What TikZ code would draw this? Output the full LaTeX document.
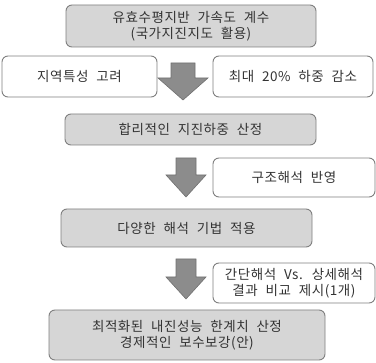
\documentclass[tikz,border=0pt]{standalone}
\usepackage{fontspec}
\newfontfamily\kr[LetterSpace=4,WordSpace=2.2]{Noto Sans CJK KR}
\definecolor{boxfill}{HTML}{D6D6D6}
\definecolor{boxline}{HTML}{7F7F7F}
\definecolor{txt}{HTML}{333333}
\definecolor{arrfill}{HTML}{8C8C8C}
\definecolor{arrline}{HTML}{707070}
\begin{document}
\begin{tikzpicture}[x=1pt,y=-1pt,
  mainbox/.style={draw=boxline,line width=0.9pt,fill=boxfill,rounded corners=6pt,inner sep=0pt,align=center,text=txt,font=\kr\fontsize{13.5}{15.5}\selectfont},
  sidebox/.style={draw=boxline,line width=0.9pt,fill=white,rounded corners=6pt,inner sep=0pt,align=center,text=txt,font=\kr\fontsize{13.5}{15.5}\selectfont},
  blockarrow/.style={fill=arrfill,draw=arrline,line width=0.6pt,line join=miter}]
\useasboundingbox (0,0) rectangle (376,363);
\node[mainbox,minimum width=250pt,minimum height=42pt] (b1) at (191,26) {유효수평지반 가속도 계수\\(국가지진지도 활용)};
\node[sidebox,minimum width=155pt,minimum height=41pt] (l1) at (79.5,76.5) {지역특성 고려};
\node[sidebox,minimum width=160pt,minimum height=41pt] (r1) at (293,76.5) {최대 20\% 하중 감소};
\node[mainbox,minimum width=251pt,minimum height=31pt] (b2) at (190.5,129.5) {합리적인 지진하중 산정};
\node[sidebox,minimum width=162pt,minimum height=39pt] (r2) at (294,177.5) {구조해석 반영};
\node[mainbox,minimum width=251pt,minimum height=38pt] (b3) at (186.5,228) {다양한 해석 기법 적용};
\node[sidebox,minimum width=162pt,minimum height=40pt] (r3) at (294,283) {간단해석 Vs. 상세해석\\결과 비교 제시(1개)};
\node[mainbox,minimum width=276pt,minimum height=50pt] (b4) at (187,335) {최적화된 내진성능 한계치 산정\\경제적인 보수보강(안)};
% block arrows
\draw[blockarrow] (171,63) -- (195,63) -- (195,78) -- (208,78) -- (183,100) -- (158,78) -- (171,78) -- cycle;
\draw[blockarrow] (176,158) -- (196,158) -- (196,175) -- (206,175) -- (186,197) -- (166,175) -- (176,175) -- cycle;
\draw[blockarrow] (176,259) -- (196,259) -- (196,277) -- (206,277) -- (186,299) -- (166,277) -- (176,277) -- cycle;
\end{tikzpicture}
\end{document}
